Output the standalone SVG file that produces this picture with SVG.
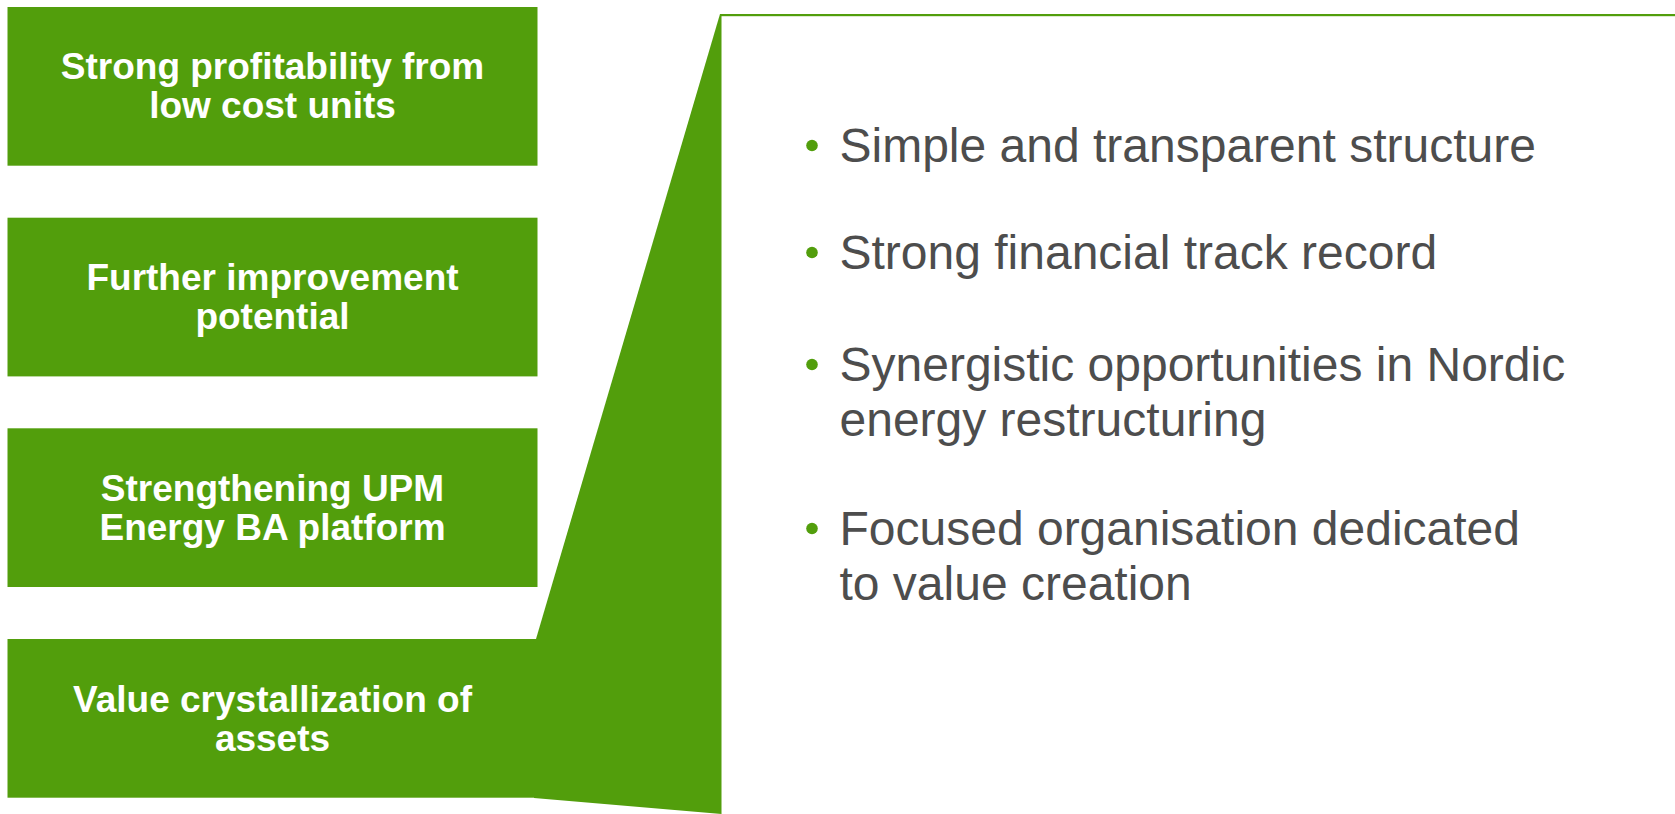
<svg xmlns="http://www.w3.org/2000/svg" width="1675" height="814" viewBox="0 0 1675 814">
<style>
.box{fill:#529e0c}
.lbl{font-family:"Liberation Sans",Arial,sans-serif;font-weight:bold;font-size:37px;fill:#ffffff;text-anchor:middle}
.bt{font-family:"Liberation Sans",Arial,sans-serif;font-size:48px;fill:#4d4d4d}
.dot{fill:#529e0c}
</style>
<rect width="1675" height="814" fill="#ffffff"/>
<g id="connectors">
<polygon class="box" points="720,14 536,639 534,798 721.5,814 721.5,14"/>
<rect class="box" x="720" y="14" width="955" height="2.2"/>
</g>
<g id="node1">
<rect class="box" x="7.5" y="7" width="530" height="158.7"/>
<text class="lbl" x="272.5" y="78.5">Strong profitability from</text>
<text class="lbl" x="272.5" y="118">low cost units</text>
</g>
<g id="node2">
<rect class="box" x="7.5" y="217.7" width="530" height="158.7"/>
<text class="lbl" x="272.5" y="289.5">Further improvement</text>
<text class="lbl" x="272.5" y="329">potential</text>
</g>
<g id="node3">
<rect class="box" x="7.5" y="428.3" width="530" height="158.7"/>
<text class="lbl" x="272.5" y="500.5">Strengthening UPM</text>
<text class="lbl" x="272.5" y="540">Energy BA platform</text>
</g>
<g id="node4">
<rect class="box" x="7.5" y="639" width="530" height="158.7"/>
<text class="lbl" x="272.5" y="711.5">Value crystallization of</text>
<text class="lbl" x="272.5" y="750.5">assets</text>
</g>
<g id="panel">
<circle class="dot" cx="812" cy="145.5" r="5.8"/>
<text class="bt" x="839.5" y="162">Simple and transparent structure</text>
<circle class="dot" cx="812" cy="252.5" r="5.8"/>
<text class="bt" x="839.5" y="269">Strong financial track record</text>
<circle class="dot" cx="812" cy="364.5" r="5.8"/>
<text class="bt" x="839.5" y="381">Synergistic opportunities in Nordic</text>
<text class="bt" x="839.5" y="436">energy restructuring</text>
<circle class="dot" cx="812" cy="528.5" r="5.8"/>
<text class="bt" x="839.5" y="545">Focused organisation dedicated</text>
<text class="bt" x="839.5" y="600">to value creation</text>
</g>
</svg>
